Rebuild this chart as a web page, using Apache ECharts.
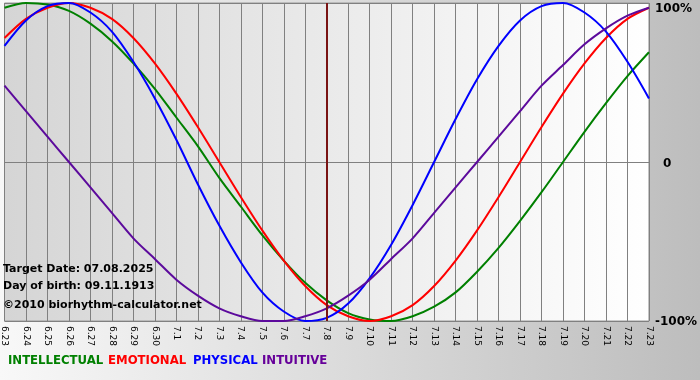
<!DOCTYPE html>
<html><head><meta charset="utf-8">
<script src="https://cdn.jsdelivr.net/npm/echarts@6/dist/echarts.min.js"></script>
<style>html,body{margin:0;padding:0;}#c{width:700px;height:380px;}</style>
</head><body><div id="c"></div>
<script>
var days = ['6.23','6.24','6.25','6.26','6.27','6.28','6.29','6.30','7.1','7.2','7.3','7.4','7.5','7.6','7.7','7.8','7.9','7.10','7.11','7.12','7.13','7.14','7.15','7.16','7.17','7.18','7.19','7.20','7.21','7.22','7.23'];
var physical = [73,89,98,100,94,82,63,40,14,-14,-40,-63,-82,-94,-100,-98,-89,-73,-52,-27,0,27,52,73,89,98,100,94,82,63,40];
var emotional = [78,90,97,100,97,90,78,62,43,22,0,-22,-43,-62,-78,-90,-97,-100,-97,-90,-78,-62,-43,-22,0,22,43,62,78,90,97];
var intellectual = [97,100,99,95,87,76,62,46,28,10,-10,-28,-46,-62,-76,-87,-95,-99,-100,-97,-91,-82,-69,-54,-37,-19,0,19,37,54,69];
var intuitive = [48,32,16,0,-16,-32,-48,-61,-74,-84,-92,-97,-100,-100,-97,-92,-84,-74,-61,-48,-32,-16,0,16,32,48,61,74,84,92,97];
var targetDay = '7.8';
var yTicks = {'100':'{t|100%}','0':'{m|0}','-100':'{b|-100%}'};
var infoLines = ['Target Date: 07.08.2025','Day of birth: 09.11.1913','\u00a92010 biorhythm-calculator.net'];
var legendItems = [['INTELLECTUAL','#008000'],['EMOTIONAL','#ff0000'],['PHYSICAL','#0000ff'],['INTUITIVE','#660099']];

var chart = echarts.init(document.getElementById('c'), null, {renderer:'canvas'});
var G = echarts.graphic;
var font = '"DejaVu Sans", sans-serif';
function line(name, data, color){
  return {name:name, type:'line', data:data, smooth:0.3, symbol:'none',
    lineStyle:{color:color, width:2}, itemStyle:{color:color}, z:3};
}
var series = [
  line('INTELLECTUAL', intellectual, '#008000'),
  line('EMOTIONAL', emotional, '#ff0000'),
  line('PHYSICAL', physical, '#0000ff'),
  line('INTUITIVE', intuitive, '#5c0a9c')
];
series[0].markLine = {silent:true, symbol:'none', label:{show:false},
  lineStyle:{color:'#7a1414', width:2, type:'solid'}, data:[{xAxis:targetDay}]};

var graphics = [];
var ys = [271, 288, 307];
infoLines.forEach(function(t,i){
  graphics.push({type:'text', left:3, top:ys[i]-7, z:10,
    style:{text:t, fill:'#000', font:'bold 11px '+font}});
});
var lx = [8, 108, 193, 262];
legendItems.forEach(function(it,i){
  graphics.push({type:'text', left:lx[i], top:354, z:10,
    style:{text:it[0], fill:it[1], font:'bold 13px "DejaVu Sans Condensed", "DejaVu Sans", sans-serif'}});
});
var rs = {fontWeight:'bold', fontSize:12, color:'#000', fontFamily:font};

chart.setOption({
  animation:false,
  backgroundColor: new G.LinearGradient(0,0,1,0,[{offset:0,color:'#f8f8f8'},{offset:1,color:'#bdbdbd'}]),
  grid:{left:0, right:49, top:3, bottom:59, show:true, borderWidth:1, borderColor:'#999',
    backgroundColor: new G.LinearGradient(0,0,1,0,[{offset:0,color:'#d5d5d5'},{offset:1,color:'#ffffff'}])},
  xAxis:{type:'category', data:days, boundaryGap:false,
    axisLine:{lineStyle:{color:'#808080'}},
    axisTick:{show:true, length:4, lineStyle:{color:'#808080'}, alignWithLabel:true},
    axisLabel:{rotate:-90, interval:0, fontSize:9, color:'#000', fontFamily:font, margin:5},
    splitLine:{show:true, interval:0, lineStyle:{color:'#808080', width:1}}},
  yAxis:{type:'value', position:'right', min:-100, max:100, interval:100,
    axisLine:{show:false}, axisTick:{show:false},
    axisLabel:{margin:6, formatter:function(v){return yTicks[String(v)];},
      rich:{t:Object.assign({padding:[12,0,0,0]},rs), m:Object.assign({padding:[4,0,0,8]},rs), b:Object.assign({padding:[2,0,0,0]},rs)}},
    splitLine:{show:true, lineStyle:{color:'#808080', width:1}}},
  series:series,
  graphic:graphics
});
</script></body></html>
